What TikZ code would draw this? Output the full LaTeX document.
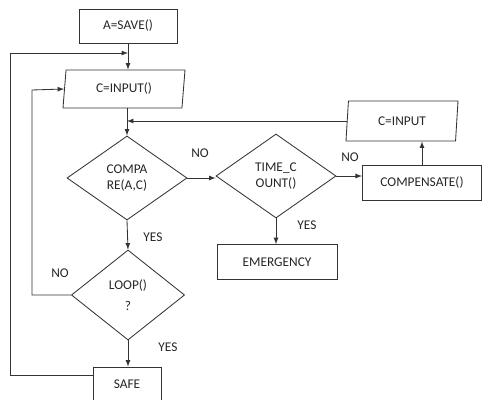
\documentclass[tikz,border=0pt]{standalone}
\usepackage{fontspec}
\setmainfont{Carlito}
\usepackage{tikz}
\usetikzlibrary{shapes,shapes.geometric,arrows,calc}
\tikzstyle{tsText} = [
    text=black!85,
    font=\fontsize{9.5}{11}\selectfont
]
\tikzstyle{tsBox} = [
    rectangle,
    tsText,
    draw=black!80,
    line width=0.6pt,
    inner sep=1pt,
    text centered]
\tikzstyle{tsData} = [
    trapezium,
    trapezium left angle=78,
    trapezium right angle=102,
    trapezium stretches body=true,
    tsText,
    draw=black!80,
    line width=0.6pt,
    inner sep=1pt]
\tikzstyle{tsDecision} = [
    diamond,
    tsText,
    draw=black!80,
    line width=0.6pt,
    inner sep=0pt,
    align=center]
\tikzstyle{tsLine} = [
    draw=black!80,
    line width=0.6pt,
    -latex]

\begin{document}
\begin{tikzpicture}[x=0.025cm, y=-0.025cm]

        \useasboundingbox (0,0) rectangle (483,400);

        % boxes
        \node[tsBox, minimum width=2.45cm, minimum height=0.85cm] (save) at (128,26) {A=SAVE()};
        \node[tsData, minimum width=3.05cm, minimum height=0.95cm] (input) at (124,89) {C=INPUT()};
        \node[tsDecision, minimum width=3cm, minimum height=2.1cm] (compare) at (127,178) {COMPA\\RE(A,C)};
        \node[tsDecision, minimum width=3cm, minimum height=2.1cm] (timecount) at (276,176) {TIME\_C\\OUNT()};
        \node[tsBox, minimum width=2.98cm, minimum height=0.87cm] (compensate) at (422,183) {COMPENSATE()};
        \node[tsData, minimum width=2.8cm, minimum height=1cm] (reinput) at (402,121) {C=INPUT};
        \node[tsBox, minimum width=3cm, minimum height=0.87cm] (emergency) at (277,262) {EMERGENCY};
        \node[tsDecision, minimum width=2.83cm, minimum height=2.25cm] (loop) at (128,295) {LOOP()\\[4pt]?};
        \node[tsBox, minimum width=1.7cm, minimum height=0.85cm] (safe) at (127,384) {SAFE};

        % labels
        \node[tsText] (noA) at (200,153) {NO};
        \node[tsText] (noB) at (350,157) {NO};
        \node[tsText] (noC) at (60,273) {NO};
        \node[tsText] (yesA) at (153,237) {YES};
        \node[tsText] (yesB) at (307,225) {YES};
        \node[tsText] (yesC) at (168,347) {YES};

        \coordinate (outerL) at (10,53);
        \coordinate (innerL) at (32,90);

        % connectors
        \draw[tsLine] (save.south) -- (input.north -| save.south);
        \draw[tsLine] (input.south -| compare.north) -- (compare.north);
        \draw[tsLine] (compare.east) -- (compare.east -| timecount.west);
        \draw[tsLine] (timecount.east) -- (timecount.east -| compensate.west);
        \draw[tsLine] (compensate.north) -- (compensate.north |- reinput.south);
        \draw[tsLine] (reinput.west) -- (reinput.west -| compare.north);
        \draw[tsLine] (timecount.south) -- (emergency.north -| timecount.south);
        \draw[tsLine] (compare.south) -- (loop.north);
        \draw[tsLine] (loop.south) -- (safe.north -| loop.south);
        \draw[tsLine] (loop.west) -| (innerL) -- (input.west);
        \draw[tsLine] (safe.west |- 0,375) -| (outerL) -- (outerL -| save.south);

\end{tikzpicture}
\end{document}
